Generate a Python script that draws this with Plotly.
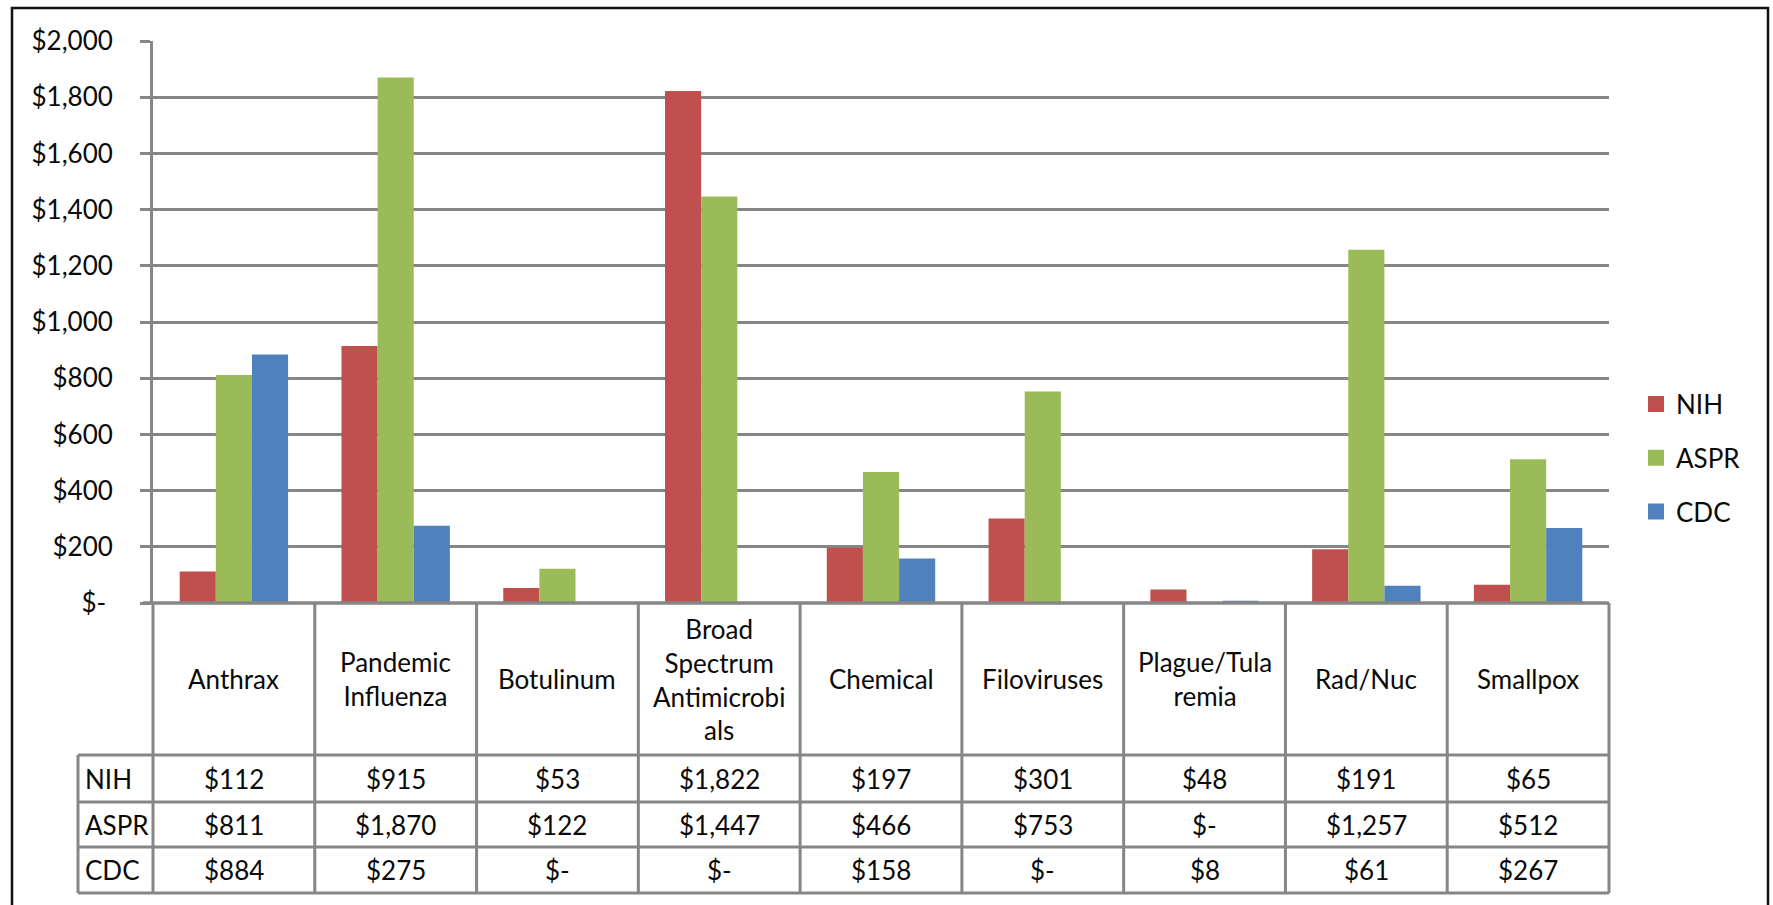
import plotly.graph_objects as go

categories = ["Anthrax", "Pandemic Influenza", "Botulinum", "Broad Spectrum Antimicrobials",
              "Chemical", "Filoviruses", "Plague/Tularemia", "Rad/Nuc", "Smallpox"]
header_labels = ["Anthrax", "Pandemic<br>Influenza", "Botulinum",
                 "Broad<br>Spectrum<br>Antimicrobi<br>als", "Chemical", "Filoviruses",
                 "Plague/Tula<br>remia", "Rad/Nuc", "Smallpox"]
series_names = ["NIH", "ASPR", "CDC"]
nih = [112, 915, 53, 1822, 197, 301, 48, 191, 65]
aspr = [811, 1870, 122, 1447, 466, 753, 0, 1257, 512]
cdc = [884, 275, 0, 0, 158, 0, 8, 61, 267]
colors = ["#C0504D", "#9BBB59", "#4F81BD"]
tick_vals = [0, 200, 400, 600, 800, 1000, 1200, 1400, 1600, 1800, 2000]
tick_text = ["$-\u00a0", "$200", "$400", "$600", "$800", "$1,000", "$1,200",
             "$1,400", "$1,600", "$1,800", "$2,000"]

values = [nih, aspr, cdc]

W, H = 1773, 905
L, T, R, B = 153, 41, 1609, 603
PW, PH = R - L, B - T
FONT = "Lato"
FS = 26
TXT = "#0a0a0a"
GRID = "#868686"

def fx(p):
    return (p - L) / PW

def fy(p):
    return (B - p) / PH

def fmt(v):
    return "$-" if v == 0 else "${:,}".format(v)

fig = go.Figure()
for name, vals, col in zip(series_names, values, colors):
    fig.add_trace(go.Bar(x=categories, y=vals, name=name, marker_color=col,
                         marker_line_width=0, showlegend=False))
# legend entries with larger square symbols
for i, (name, col) in enumerate(zip(series_names, colors)):
    fig.add_trace(go.Scatter(x=[None], y=[None], mode="markers", name=name,
                             marker=dict(symbol="square", size=16, color=col),
                             legendgroup=name, showlegend=True))

shapes = []
n = len(categories)
row_y = [755, 802, 847, 893]
# vertical lines between categories
for i in range(n + 1):
    shapes.append(dict(type="line", xref="paper", yref="paper",
                       x0=i / n, x1=i / n, y0=fy(B), y1=fy(893),
                       line=dict(color=GRID, width=3)))
# series label column left edge
shapes.append(dict(type="line", xref="paper", yref="paper", x0=fx(78), x1=fx(78),
                   y0=fy(755), y1=fy(893), line=dict(color=GRID, width=3)))
for yy in row_y:
    shapes.append(dict(type="line", xref="paper", yref="paper", x0=fx(78), x1=1,
                       y0=fy(yy), y1=fy(yy), line=dict(color=GRID, width=3)))
# top of table / baseline
shapes.append(dict(type="line", xref="paper", yref="paper", x0=fx(143), x1=1,
                   y0=0, y1=0, line=dict(color=GRID, width=3.5)))
# outer border
shapes.append(dict(type="rect", xref="paper", yref="paper", x0=fx(12), x1=fx(1768),
                   y0=fy(8), y1=fy(915), line=dict(color="#111111", width=2.5)))

annotations = []
for cat, lab in zip(categories, header_labels):
    annotations.append(dict(x=cat, xref="x", y=fy(679), yref="paper", text=lab,
                            showarrow=False, xanchor="center", yanchor="middle",
                            font=dict(family=FONT, size=FS, color=TXT)))
row_centers = [(row_y[k] + row_y[k + 1]) / 2 for k in range(3)]
for name, vals, yc in zip(series_names, values, row_centers):
    annotations.append(dict(x=fx(83), xref="paper", y=fy(yc), yref="paper", text=name,
                            showarrow=False, xanchor="left", yanchor="middle",
                            font=dict(family=FONT, size=FS, color=TXT)))
    for cat, v in zip(categories, vals):
        annotations.append(dict(x=cat, xref="x", y=fy(yc), yref="paper", text=fmt(v),
                                showarrow=False, xanchor="center", yanchor="middle",
                                font=dict(family=FONT, size=FS, color=TXT)))

fig.update_layout(
    width=W, height=H,
    margin=dict(l=L, r=W - R, t=T, b=H - B, pad=0),
    paper_bgcolor="white", plot_bgcolor="white",
    barmode="group", bargap=0.33, bargroupgap=0,
    font=dict(family=FONT, size=FS, color=TXT),
    xaxis=dict(type="category", range=[-0.5, n - 0.5], showticklabels=False,
               showgrid=False, showline=False,
               ticks="", zeroline=False, fixedrange=True),
    yaxis=dict(range=[0, 2000], tickvals=tick_vals, ticktext=tick_text,
               showgrid=True, gridcolor=GRID, gridwidth=2.5,
               showline=True, linecolor=GRID, linewidth=3,
               ticks="outside", ticklen=10, tickwidth=2.5, tickcolor=GRID,
               ticklabelstandoff=22, zeroline=False,
               tickfont=dict(family=FONT, size=FS, color=TXT)),
    legend=dict(x=fx(1636), xanchor="left", y=fy(458), yanchor="middle",
                font=dict(family=FONT, size=FS, color=TXT),
                tracegroupgap=17, bgcolor="rgba(0,0,0,0)", borderwidth=0),
    shapes=shapes,
    annotations=annotations,
)

fig.write_html("out.html")
